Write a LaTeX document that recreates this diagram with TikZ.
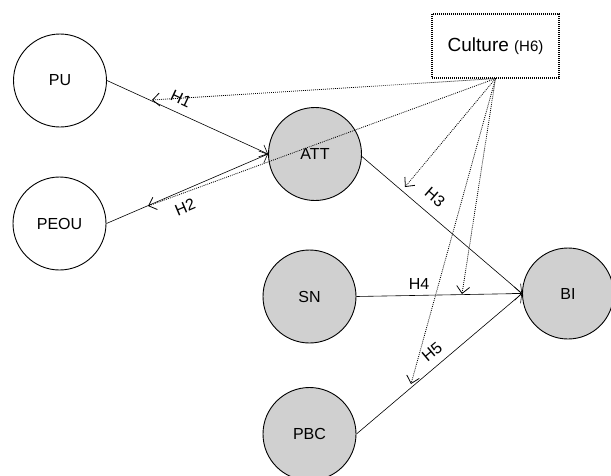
\documentclass[tikz,border=0pt]{standalone}
\usepackage{fontspec}
\setmainfont{Liberation Sans}
\usetikzlibrary{arrows.meta}
\definecolor{cfill}{RGB}{208,208,208}
\begin{document}
\begin{tikzpicture}[x=1pt,y=-1pt,
  construct/.style={circle,draw,line width=0.9pt,minimum size=93pt,inner sep=0pt,font=\fontsize{16}{18}\selectfont},
  shaded/.style={construct,fill=cfill},
  path/.style={line width=0.6pt,-{Straight Barb[length=7pt,width=13pt]}},
  moderator/.style={line width=0.8pt,dash pattern=on 0.9pt off 1.1pt,-{Straight Barb[length=7pt,width=13pt]}},
  hlabel/.style={font=\fontsize{16}{18}\selectfont,inner sep=1pt}]
\useasboundingbox (0,0) rectangle (611,475);
\node[construct] (PU) at (60,80.5) {PU};
\node[construct] (PEOU) at (59.5,223.5) {PEOU};
\node[shaded] (ATT) at (315,154) {ATT};
\node[shaded] (SN) at (309.5,296.5) {SN};
\node[shaded] (PBC) at (309.5,434) {PBC};
\node[shaded,minimum size=91pt] (BI) at (568,293.5) {BI};
\node[draw,dash pattern=on 1pt off 1pt,line width=1.1pt,minimum width=127pt,minimum height=64pt,inner sep=0pt] (C) at (495.5,46)
  {\fontsize{19}{21}\selectfont Culture \fontsize{15}{17}\selectfont(H6)};
% main paths
\draw[path] (PU.east) -- (ATT.west);
\draw[path] (PEOU.east) -- (ATT.west);
\draw[path] (ATT.-3) -- (BI.west);
\draw[path] (SN.east) -- (BI.west);
\draw[path] (PBC.east) -- (BI.west);
% moderated points
\coordinate (m1) at (152,100);
\coordinate (m2) at (148,206);
\coordinate (m3) at (405,187);
\coordinate (m4) at (462,294);
\coordinate (m5) at (411,384);
\foreach \m in {m1,m2,m3,m4,m5}{\draw[moderator] (C.south) -- (\m);}
% labels
\node[hlabel,rotate=-25] (l1) at (181,99) {H1};
\node[hlabel,rotate=23] (l2) at (185,207) {H2};
\node[hlabel,rotate=-41] (l3) at (435,197) {H3};
\node[hlabel] (l4) at (419,284) {H4};
\node[hlabel,rotate=40] (l5) at (432,352) {H5};
\end{tikzpicture}
\end{document}
